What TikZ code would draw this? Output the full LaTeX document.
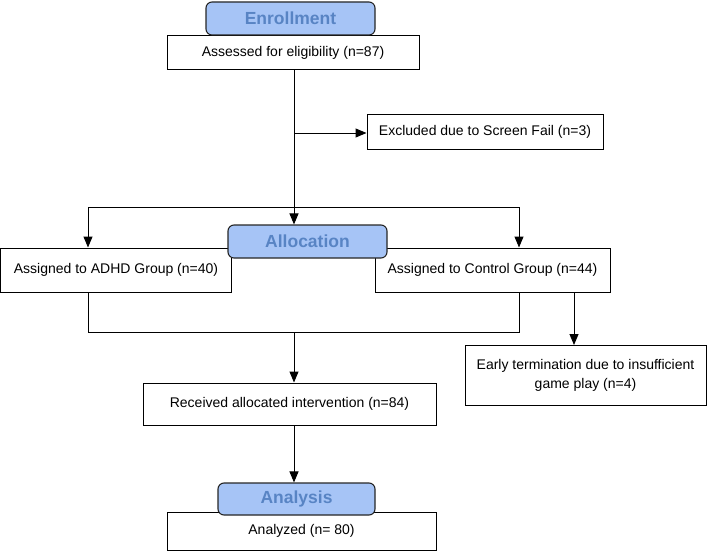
\documentclass[tikz,border=0pt]{standalone}
\usepackage{fontspec}
\setmainfont{Liberation Sans}
\usetikzlibrary{arrows.meta}
\definecolor{hdrfill}{RGB}{166,196,246}
\definecolor{hdrtext}{RGB}{88,132,196}
\begin{document}
\begin{tikzpicture}[x=1pt,y=-1pt,
  box/.style={draw=black,line width=1pt,fill=white,rectangle,inner sep=0pt,font=\fontsize{14}{19}\selectfont,align=center},
  hdr/.style={draw=black!85,line width=1.1pt,fill=hdrfill,rounded corners=6pt,inner sep=0pt,text=hdrtext,font=\bfseries\fontsize{17.5}{20}\selectfont},
  arr/.style={line width=1pt,-{Triangle[length=11pt,width=9pt]}},
  ln/.style={line width=1pt}]
\useasboundingbox (0,0) rectangle (707,551);
% white boxes
\node[box,minimum width=252pt,minimum height=34pt] (assess) at (293,53) {Assessed for eligibility (n=87)};
\node[box,minimum width=236pt,minimum height=35pt] (excl) at (485,131.5) {Excluded due to Screen Fail (n=3)};
\node[box,minimum width=231pt,minimum height=44pt] (adhd) at (116,270) {Assigned to ADHD Group (n=40)};
\node[box,minimum width=235pt,minimum height=44pt] (ctrl) at (492.5,270) {Assigned to Control Group (n=44)};
\node[box,minimum width=241pt,minimum height=60pt] (early) at (585.5,375.5) {\raisebox{3pt}{\begin{tabular}{@{}c@{}}Early termination due to insufficient\\game play (n=4)\end{tabular}}};
\node[box,minimum width=293pt,minimum height=42pt] (recv) at (289.5,404) {Received allocated intervention (n=84)};
\node[box,minimum width=269pt,minimum height=38pt] (anz) at (301.5,531) {Analyzed (n= 80)};
% headers
\node[hdr,minimum width=169pt,minimum height=33pt] (enr) at (290.5,18.5) {Enrollment};
\node[hdr,minimum width=159pt,minimum height=33pt] (alloc) at (307.5,241.5) {Allocation};
\node[hdr,minimum width=157pt,minimum height=32pt] (anal) at (296.5,499) {Analysis};
% coordinates
\coordinate (aL) at (88,207);
\coordinate (aR) at (519,207);
\coordinate (mL) at (88,332);
\coordinate (mR) at (519,332);
\coordinate (cE) at (574,300);
\coordinate (sp) at (294,133);
% connectors
\draw[arr] (assess.south -| sp) -- (alloc.north -| sp);
\draw[arr] (sp) -- (excl.west |- sp);
\draw[ln] (aL) -- (aR);
\draw[arr] (aL) -- (aL |- adhd.north);
\draw[arr] (aR) -- (aR |- ctrl.north);
\draw[ln] (aL |- adhd.south) -- (mL) -- (mR) -- (aR |- ctrl.south);
\draw[arr] (mL -| sp) -- (recv.north -| sp);
\draw[arr] (cE |- ctrl.south) -- (cE |- early.north);
\draw[arr] (recv.south -| sp) -- (anal.north -| sp);
\end{tikzpicture}
\end{document}
